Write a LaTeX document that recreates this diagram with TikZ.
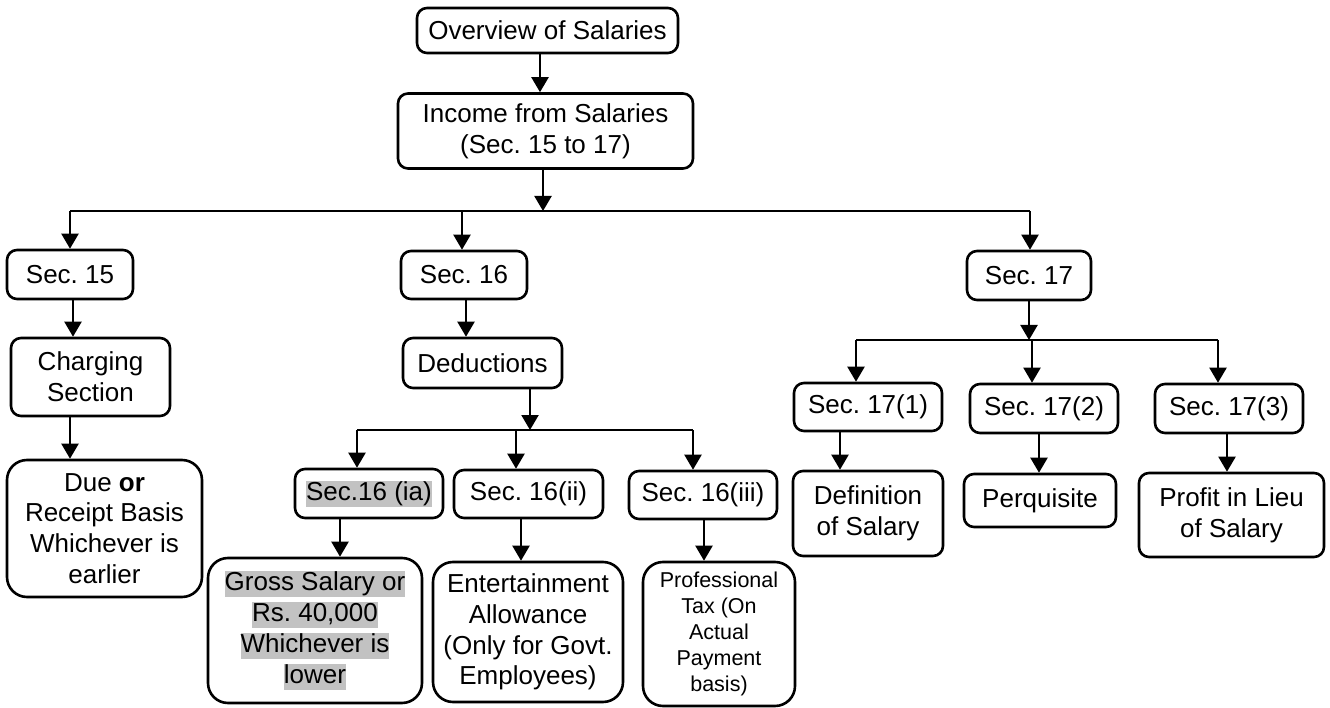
\documentclass[tikz,border=0pt]{standalone}
\usepackage{fontspec}
\setmainfont{Liberation Sans}
\usetikzlibrary{arrows.meta}
\definecolor{hlgray}{gray}{0.76}
\newcommand{\hlt}[1]{{\setlength{\fboxsep}{0pt}\colorbox{hlgray}{\rule[-6.5pt]{0pt}{26pt}#1}}}
\frenchspacing
\begin{document}
\begin{tikzpicture}[x=1pt,y=-1pt,
  box/.style={draw, line width=2.6pt, rounded corners=10pt, align=center, inner sep=0pt,
    font=\fontsize{26}{30.7}\selectfont},
  bigbox/.style={box, rounded corners=20pt},
  multi/.style={execute at begin node={\rule{0pt}{31pt}}},
  smalltext/.style={font=\fontsize{21.5}{26}\selectfont},
  arr/.style={line width=2.2pt, -{Triangle[length=15pt,width=17pt]}},
  bus/.style={line width=2.2pt}]
\useasboundingbox (0,0) rectangle (1330,708);

% top of the tree
\node[box, minimum width=261pt, minimum height=45pt] (over) at (547.5,30.5) {Overview of Salaries};
\node[box, multi, minimum width=295pt, minimum height=75pt] (inc) at (545.5,131) {Income from Salaries\\(Sec. 15 to 17)};

% sections
\node[box, minimum width=126pt, minimum height=49pt] (s15) at (70,274.5) {Sec. 15};
\node[box, minimum width=126pt, minimum height=48pt] (s16) at (464,275) {Sec. 16};
\node[box, minimum width=124pt, minimum height=49pt] (s17) at (1029,275.5) {Sec. 17};

% Sec. 15 branch
\node[box, multi, minimum width=159pt, minimum height=78pt] (chg) at (90.5,377) {Charging\\Section};
\node[bigbox, multi, minimum width=195pt, minimum height=137pt] (due) at (104.5,528.5)
  {Due \textbf{or}\\Receipt Basis\\Whichever is\\earlier};

% Sec. 16 branch
\node[box, minimum width=159pt, minimum height=50pt] (ded) at (482.5,363) {Deductions};
\node[box, minimum width=148pt, minimum height=49pt] (s16a) at (369,493.5) {\hlt{Sec.16 (ia)}};
\node[box, minimum width=149pt, minimum height=48pt] (s16b) at (528.5,494) {Sec. 16(ii)};
\node[box, minimum width=148pt, minimum height=48pt] (s16c) at (703,495) {Sec. 16(iii)};
\node[bigbox, multi, minimum width=214pt, minimum height=145pt] (gross) at (315,630.5)
  {\hlt{Gross Salary or}\\\hlt{Rs. 40,000}\\\hlt{Whichever is}\\\hlt{lower}};
\node[bigbox, multi, minimum width=190pt, minimum height=140pt] (ent) at (528,632)
  {Entertainment\\Allowance\\(Only for Govt.\\Employees)};
\node[bigbox, smalltext, minimum width=152pt, minimum height=144pt] (prof) at (719,634)
  {Professional\\Tax (On\\Actual\\Payment\\basis)};

% Sec. 17 branch
\node[box, minimum width=148pt, minimum height=48pt] (s171) at (868,407) {Sec. 17(1)};
\node[box, minimum width=148pt, minimum height=49pt] (s172) at (1044,408.5) {Sec. 17(2)};
\node[box, minimum width=148pt, minimum height=49pt] (s173) at (1229,408.5) {Sec. 17(3)};
\node[box, multi, minimum width=150pt, minimum height=85pt] (def) at (868,513.5) {Definition\\of Salary};
\node[box, minimum width=152pt, minimum height=53pt] (perq) at (1040,500.5) {Perquisite};
\node[box, multi, minimum width=185pt, minimum height=84pt] (lieu) at (1231.5,515) {Profit in Lieu\\of Salary};

% connector columns and bus rows
\coordinate (c0) at (540,0);
\coordinate (c1) at (543,211);
\coordinate (bus1L) at (70,211);
\coordinate (bus1R) at (1030,211);
\coordinate (c15) at (70,0);
\coordinate (c16) at (462,0);
\coordinate (c17) at (1030,0);
\coordinate (c15b) at (73,0);
\coordinate (c15c) at (70,0);
\coordinate (c16b) at (466,0);
\coordinate (c2) at (530,430);
\coordinate (bus2L) at (357,430);
\coordinate (bus2R) at (693,430);
\coordinate (ca) at (357,0);
\coordinate (cb) at (516,0);
\coordinate (cc) at (693,0);
\coordinate (ca2) at (340,0);
\coordinate (cb2) at (521,0);
\coordinate (cc2) at (704,0);
\coordinate (c3) at (1029,340);
\coordinate (bus3L) at (856,340);
\coordinate (bus3R) at (1218,340);
\coordinate (d1) at (856,0);
\coordinate (d2) at (1032,0);
\coordinate (d3) at (1218,0);
\coordinate (e1) at (840,0);
\coordinate (e2) at (1039,0);
\coordinate (e3) at (1227,0);

% top connectors
\draw[arr] (c0 |- over.south) -- (c0 |- inc.north);
\draw[arr] (c1 |- inc.south) -- (c1);
\draw[bus] (bus1L) -- (bus1R);
\draw[arr] (bus1L) -- (c15 |- s15.north);
\draw[arr] (c16 |- bus1L) -- (c16 |- s16.north);
\draw[arr] (bus1R) -- (c17 |- s17.north);

% Sec. 15 connectors
\draw[arr] (c15b |- s15.south) -- (c15b |- chg.north);
\draw[arr] (c15c |- chg.south) -- (c15c |- due.north);

% Sec. 16 connectors
\draw[arr] (c16b |- s16.south) -- (c16b |- ded.north);
\draw[arr] (c2 |- ded.south) -- (c2);
\draw[bus] (bus2L) -- (bus2R);
\draw[arr] (bus2L) -- (ca |- s16a.north);
\draw[arr] (cb |- bus2L) -- (cb |- s16b.north);
\draw[arr] (bus2R) -- (cc |- s16c.north);
\draw[arr] (ca2 |- s16a.south) -- (ca2 |- gross.north);
\draw[arr] (cb2 |- s16b.south) -- (cb2 |- ent.north);
\draw[arr] (cc2 |- s16c.south) -- (cc2 |- prof.north);

% Sec. 17 connectors
\draw[arr] (c3 |- s17.south) -- (c3);
\draw[bus] (bus3L) -- (bus3R);
\draw[arr] (bus3L) -- (d1 |- s171.north);
\draw[arr] (d2 |- bus3L) -- (d2 |- s172.north);
\draw[arr] (bus3R) -- (d3 |- s173.north);
\draw[arr] (e1 |- s171.south) -- (e1 |- def.north);
\draw[arr] (e2 |- s172.south) -- (e2 |- perq.north);
\draw[arr] (e3 |- s173.south) -- (e3 |- lieu.north);
\end{tikzpicture}
\end{document}
